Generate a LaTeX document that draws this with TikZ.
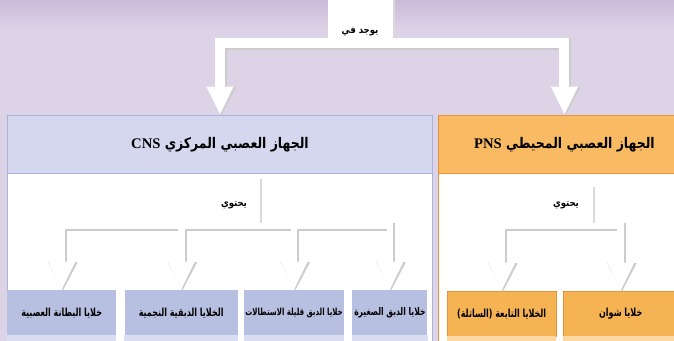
\documentclass[tikz,border=0pt]{standalone}
\usepackage{fontspec}
\setmainfont{Liberation Serif}
\newfontfamily\arabicfont[Script=Arabic,FakeStretch=0.85]{DejaVu Sans}
\newfontfamily\arabicnarrow[Script=Arabic,FakeStretch=0.72]{DejaVu Sans}
\TeXXeTstate=1
\usetikzlibrary{arrows.meta, positioning}
\definecolor{bgLilac}{HTML}{DDD3E6}
\definecolor{bgTop}{HTML}{CBBBDA}
\definecolor{cnsLine}{HTML}{A7B3DB}
\definecolor{cnsHead}{HTML}{D4D7EE}
\definecolor{cnsLeaf}{HTML}{B8C0E2}
\definecolor{cnsLeafLow}{HTML}{DADEF2}
\definecolor{pnsLine}{HTML}{E8923A}
\definecolor{pnsHead}{HTML}{F8BA63}
\definecolor{pnsLeaf}{HTML}{F6B354}
\definecolor{pnsLeafLow}{HTML}{FBD8A2}
\newcommand\artxt[1]{{\arabicfont\bfseries\beginR #1\endR}}
\newcommand\leaftxt[1]{{\arabicnarrow\bfseries\beginR #1\endR}}
\newcommand\lat[1]{\beginL{\rmfamily\bfseries #1}\endL}
\tikzstyle{frame} = [rectangle, fill=white, anchor=north west, minimum height=8cm, line width=0.8pt]
\tikzstyle{head} = [rectangle, anchor=north, minimum height=1.74cm, line width=0.8pt, font=\fontsize{12.5}{14}\selectfont]
\tikzstyle{leaf} = [rectangle, minimum height=1.35cm, inner sep=1pt, font=\fontsize{9.5}{11}\selectfont]
\tikzstyle{tag} = [rectangle, fill=white, inner sep=2pt, font=\fontsize{8.5}{10}\selectfont, preaction={fill=black!15, transform canvas={shift={(0.6mm,-0.3mm)}}}]
\tikzset{
	link/.style = {white, line width=#1, line join=miter,
		-{Triangle[width=0.75cm,length=0.85cm]}},
	link/.default=0.24cm,
	linkshade/.style = {black!20, line width=#1+1.4pt, line join=miter,
		-{Triangle[width=0.82cm,length=0.87cm]}},
	linkshade/.default=0.24cm,
	shadowed/.style = {transform canvas={shift={(0.35mm,-0.35mm)}}}
}

\begin{document}
\begin{tikzpicture}[x=0.03cm, y=-0.03cm]
\useasboundingbox (0,0) rectangle (674,341);
\clip (0,0) rectangle (674,341);
\fill[bgLilac] (0,0) rectangle (674,341);
\shade[top color=bgTop, bottom color=bgLilac] (0,0) rectangle (674,30);
%----------------------------------------------------------------------------
% Placement of the two frames
\node (cnsFrame) [frame, draw=cnsLine, minimum width=12.75cm] at (7,115) {};
\node (cnsTitle) [head, fill=cnsHead, draw=cnsLine, minimum width=12.75cm] at (cnsFrame.north) {\artxt{الجهاز العصبي المركزي \lat{CNS}}};
\node (pnsFrame) [frame, draw=pnsLine, minimum width=7.56cm] at (438,115) {};
\node (pnsTitle) [head, fill=pnsHead, draw=pnsLine, minimum width=7.56cm] at (pnsFrame.north) {\artxt{الجهاز العصبي المحيطي \lat{PNS}}};

% labels on the connectors
\node (foundIn) [tag, anchor=south, minimum width=1.95cm, text height=1.1cm, text depth=0.2cm] at (360,43) {\artxt{يوجد في}};
\node (cnsHas) [tag, anchor=south, minimum width=1.56cm, text height=0.8cm, text depth=0.5cm] at (234,226) {\artxt{يحتوي}};
\node (pnsHas) [tag, anchor=south, minimum width=1.59cm, text height=0.55cm, text depth=0.5cm] at (566,226) {\artxt{يحتوي}};

% cell boxes
\node (ependCells) [leaf, fill=cnsLeaf, anchor=north west, minimum width=3.27cm] at (7,290) {\leaftxt{خلايا البطانة العصبية}};
\node (astroCells) [leaf, fill=cnsLeaf, right = 0.24cm of ependCells, minimum width=3.39cm] {\leaftxt{الخلايا الدبقية النجمية}};
\node (oligoCells) [leaf, fill=cnsLeaf, right = 0.18cm of astroCells, minimum width=2.94cm, font=\fontsize{8.3}{10}\selectfont] {\leaftxt{خلايا الدبق قليلة الاستطالات}};
\node (microCells) [leaf, fill=cnsLeaf, right = 0.24cm of oligoCells, minimum width=2.25cm, font=\fontsize{9}{11}\selectfont] {\leaftxt{خلايا الدبق الصغيرة}};

\node (satCells) [leaf, fill=pnsLeaf, draw=pnsLine, anchor=north west, minimum width=3.27cm] at (447,291) {\leaftxt{الخلايا التابعة (الساتلة)}};
\node (schwannCells) [leaf, fill=pnsLeaf, draw=pnsLine, right = 0.21cm of satCells, minimum width=3.42cm] {\leaftxt{خلايا شوان}};

\foreach \n in {ependCells, astroCells, oligoCells, microCells}
	\fill[cnsLeafLow] (\n.south west) rectangle ([yshift=-0.6cm]\n.south east);
\foreach \n in {satCells, schwannCells}
	\fill[pnsLeafLow] (\n.south west) rectangle ([yshift=-0.6cm]\n.south east);

%----------------------------------------------------------------------------
% Lines (grey shade first, white bar on top)
\begin{scope}[shadowed]
\draw [linkshade=0.3cm] (foundIn.south) -| (cnsFrame.north);
\draw [linkshade=0.3cm] (foundIn.south) -| (pnsFrame.north);
\foreach \n in {ependCells, astroCells, oligoCells, microCells}
	\draw [linkshade=0.2cm] (cnsHas.south) -| (\n.north);
\foreach \n in {satCells, schwannCells}
	\draw [linkshade=0.2cm] (pnsHas.south) -| (\n.north);
\end{scope}

\draw [link=0.3cm] (foundIn.south) -| (cnsFrame.north);
\draw [link=0.3cm] (foundIn.south) -| (pnsFrame.north);
\foreach \n in {ependCells, astroCells, oligoCells, microCells}
	\draw [link=0.2cm] (cnsHas.south) -| (\n.north);
\foreach \n in {satCells, schwannCells}
	\draw [link=0.2cm] (pnsHas.south) -| (\n.north);

\end{tikzpicture}
\end{document}
